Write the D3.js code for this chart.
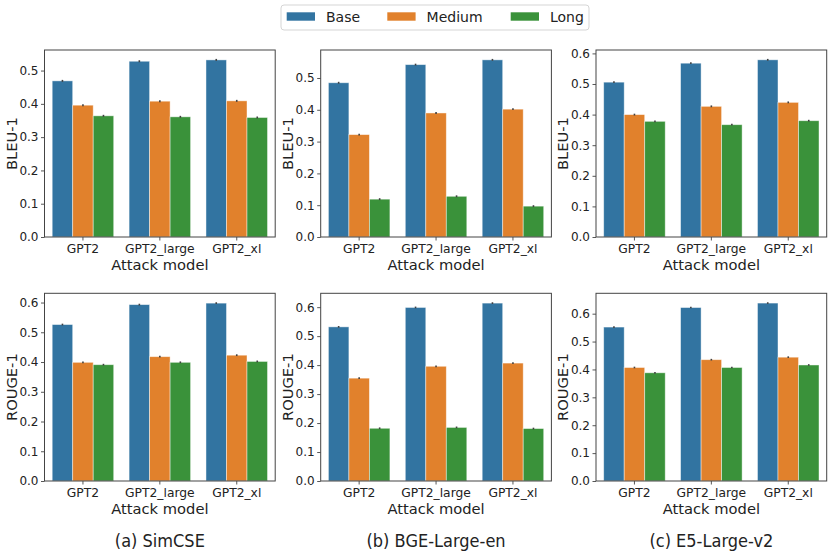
<!DOCTYPE html>
<html>
<head>
<meta charset="utf-8">
<script src="https://cdn.jsdelivr.net/npm/d3@7/dist/d3.min.js"></script>
<style>
  body { margin: 0; background: #fff; }
  svg { display: block; font-family: "DejaVu Sans", sans-serif; }
</style>
</head>
<body>
<svg id="chart" width="831" height="551"></svg>
<script>
// ---------------- DATA ----------------
const categories = ["GPT2", "GPT2_large", "GPT2_xl"];
const seriesNames = ["Base", "Medium", "Long"];
const seriesColors = ["#3274a1", "#e1812c", "#3a923a"];
const captions = ["(a) SimCSE", "(b) BGE-Large-en", "(c) E5-Large-v2"];
const metricLabels = ["BLEU-1", "ROUGE-1"];
const xLabel = "Attack model";

// BLEU-1 values [series][category]
const simcseBleu = [[0.469, 0.528, 0.532], [0.396, 0.408, 0.409], [0.364, 0.361, 0.359]];
const bgeBleu    = [[0.485, 0.542, 0.557], [0.322, 0.390, 0.402], [0.119, 0.128, 0.097]];
const e5Bleu     = [[0.506, 0.568, 0.579], [0.400, 0.427, 0.440], [0.378, 0.367, 0.380]];
// ROUGE-1 values [series][category]
const simcseRouge = [[0.526, 0.593, 0.598], [0.399, 0.418, 0.423], [0.391, 0.399, 0.402]];
const bgeRouge    = [[0.532, 0.599, 0.614], [0.355, 0.396, 0.407], [0.182, 0.185, 0.181]];
const e5Rouge     = [[0.552, 0.622, 0.638], [0.407, 0.435, 0.444], [0.388, 0.407, 0.416]];
// error bar half-widths per category
const errHalf = [0.003, 0.003, 0.003];

const yTicksBleu = [[0, 0.1, 0.2, 0.3, 0.4, 0.5], [0, 0.1, 0.2, 0.3, 0.4, 0.5], [0, 0.1, 0.2, 0.3, 0.4, 0.5, 0.6]];
const yTicksRouge = [[0, 0.1, 0.2, 0.3, 0.4, 0.5, 0.6], [0, 0.1, 0.2, 0.3, 0.4, 0.5, 0.6], [0, 0.1, 0.2, 0.3, 0.4, 0.5, 0.6]];

const panels = [
  { row: 0, col: 0, data: simcseBleu, ticks: yTicksBleu[0] },
  { row: 0, col: 1, data: bgeBleu, ticks: yTicksBleu[1] },
  { row: 0, col: 2, data: e5Bleu, ticks: yTicksBleu[2] },
  { row: 1, col: 0, data: simcseRouge, ticks: yTicksRouge[0] },
  { row: 1, col: 1, data: bgeRouge, ticks: yTicksRouge[1] },
  { row: 1, col: 2, data: e5Rouge, ticks: yTicksRouge[2] },
];

// ---------------- LAYOUT ----------------
const colX = [44.5, 320.7, 596];
const panelW = 230.7;
const rowY = [50, 293.3];
const panelH = [187, 187.7];
const spineColor = "#444";
const textColor = "#222";

const svg = d3.select("#chart");

function addText(g, x, y, txt, size, anchor, rotate, vs) {
  let tr = `translate(${x},${y})`;
  if (rotate) tr += ` rotate(${rotate})`;
  if (vs) tr += ` scale(1,${vs})`;
  return g.append("text")
    .attr("transform", tr)
    .attr("font-size", size)
    .attr("text-anchor", anchor)
    .attr("fill", textColor)
    .text(txt);
}

panels.forEach(p => {
  const x0 = colX[p.col], y0 = rowY[p.row], h = panelH[p.row];
  const g = svg.append("g").attr("transform", `translate(${x0},${y0})`);

  const maxV = d3.max(p.data.flat()) + d3.max(errHalf);
  const y = d3.scaleLinear().domain([0, maxV * 1.05]).range([h, 0]);
  const xOuter = d3.scaleBand().domain(categories).range([0, panelW]).paddingInner(0.2).paddingOuter(0.1);
  const xInner = d3.scaleBand().domain(seriesNames).range([0, xOuter.bandwidth()]);

  // bars + error bars
  seriesNames.forEach((s, si) => {
    g.selectAll(null).data(p.data[si]).enter().append("rect")
      .attr("x", (d, ci) => xOuter(categories[ci]) + xInner(s))
      .attr("y", d => y(d))
      .attr("width", xInner.bandwidth())
      .attr("height", d => h - y(d))
      .attr("fill", seriesColors[si])
      .attr("stroke", "rgba(255,255,255,0.55)")
      .attr("stroke-width", 0.8);
    g.selectAll(null).data(p.data[si]).enter().append("line")
      .attr("x1", (d, ci) => xOuter(categories[ci]) + xInner(s) + xInner.bandwidth() / 2)
      .attr("x2", (d, ci) => xOuter(categories[ci]) + xInner(s) + xInner.bandwidth() / 2)
      .attr("y1", (d, ci) => y(d - errHalf[ci]))
      .attr("y2", (d, ci) => y(d + errHalf[ci]))
      .attr("stroke", "#424242")
      .attr("stroke-width", 1.6);
  });

  // y axis
  const yAxis = d3.axisLeft(y).tickValues(p.ticks).tickFormat(d3.format(".1f")).tickSize(3.5).tickPadding(2.5);
  const ya = g.append("g").call(yAxis);
  ya.select(".domain").remove();
  ya.selectAll(".tick line").attr("stroke", spineColor).attr("stroke-width", 0.9);
  ya.selectAll(".tick text").attr("font-size", 12).attr("fill", textColor)
    .attr("font-family", "DejaVu Sans");

  // x axis
  const xAxis = d3.axisBottom(xOuter).tickSize(3.5).tickPadding(3);
  const xa = g.append("g").attr("transform", `translate(0,${h})`).call(xAxis);
  xa.select(".domain").remove();
  xa.selectAll(".tick line").attr("stroke", spineColor).attr("stroke-width", 0.9);
  xa.selectAll(".tick text").remove();
  categories.forEach(c => {
    addText(g, xOuter(c) + xOuter.bandwidth() / 2, h + 16, c, 12.3, "middle");
  });

  // spines
  g.append("rect").attr("x", 0).attr("y", 0).attr("width", panelW).attr("height", h)
    .attr("fill", "none").attr("stroke", spineColor).attr("stroke-width", 1);

  // labels
  addText(g, panelW / 2, h + 33, xLabel, 14.7, "middle");
  addText(g, -27.8, h / 2, metricLabels[p.row], 14.7, "middle", -90);

  if (p.row === 1) {
    addText(g, panelW / 2, h + 66, captions[p.col], 16.2, "middle", null, 1.1);
  }
});

// ---------------- LEGEND ----------------
const lg = svg.append("g");
lg.append("rect").attr("x", 281).attr("y", 5).attr("width", 308).attr("height", 25)
  .attr("rx", 3).attr("fill", "#fff").attr("stroke", "#d5d5d5").attr("stroke-width", 1);
const legendX = [286.7, 387.3, 510.7];
seriesNames.forEach((s, i) => {
  lg.append("rect").attr("x", legendX[i]).attr("y", 12.3).attr("width", 28.3).attr("height", 8.4)
    .attr("fill", seriesColors[i]);
  addText(lg, legendX[i] + 39.3, 21.5, s, 14, "start");
});
</script>
</body>
</html>
